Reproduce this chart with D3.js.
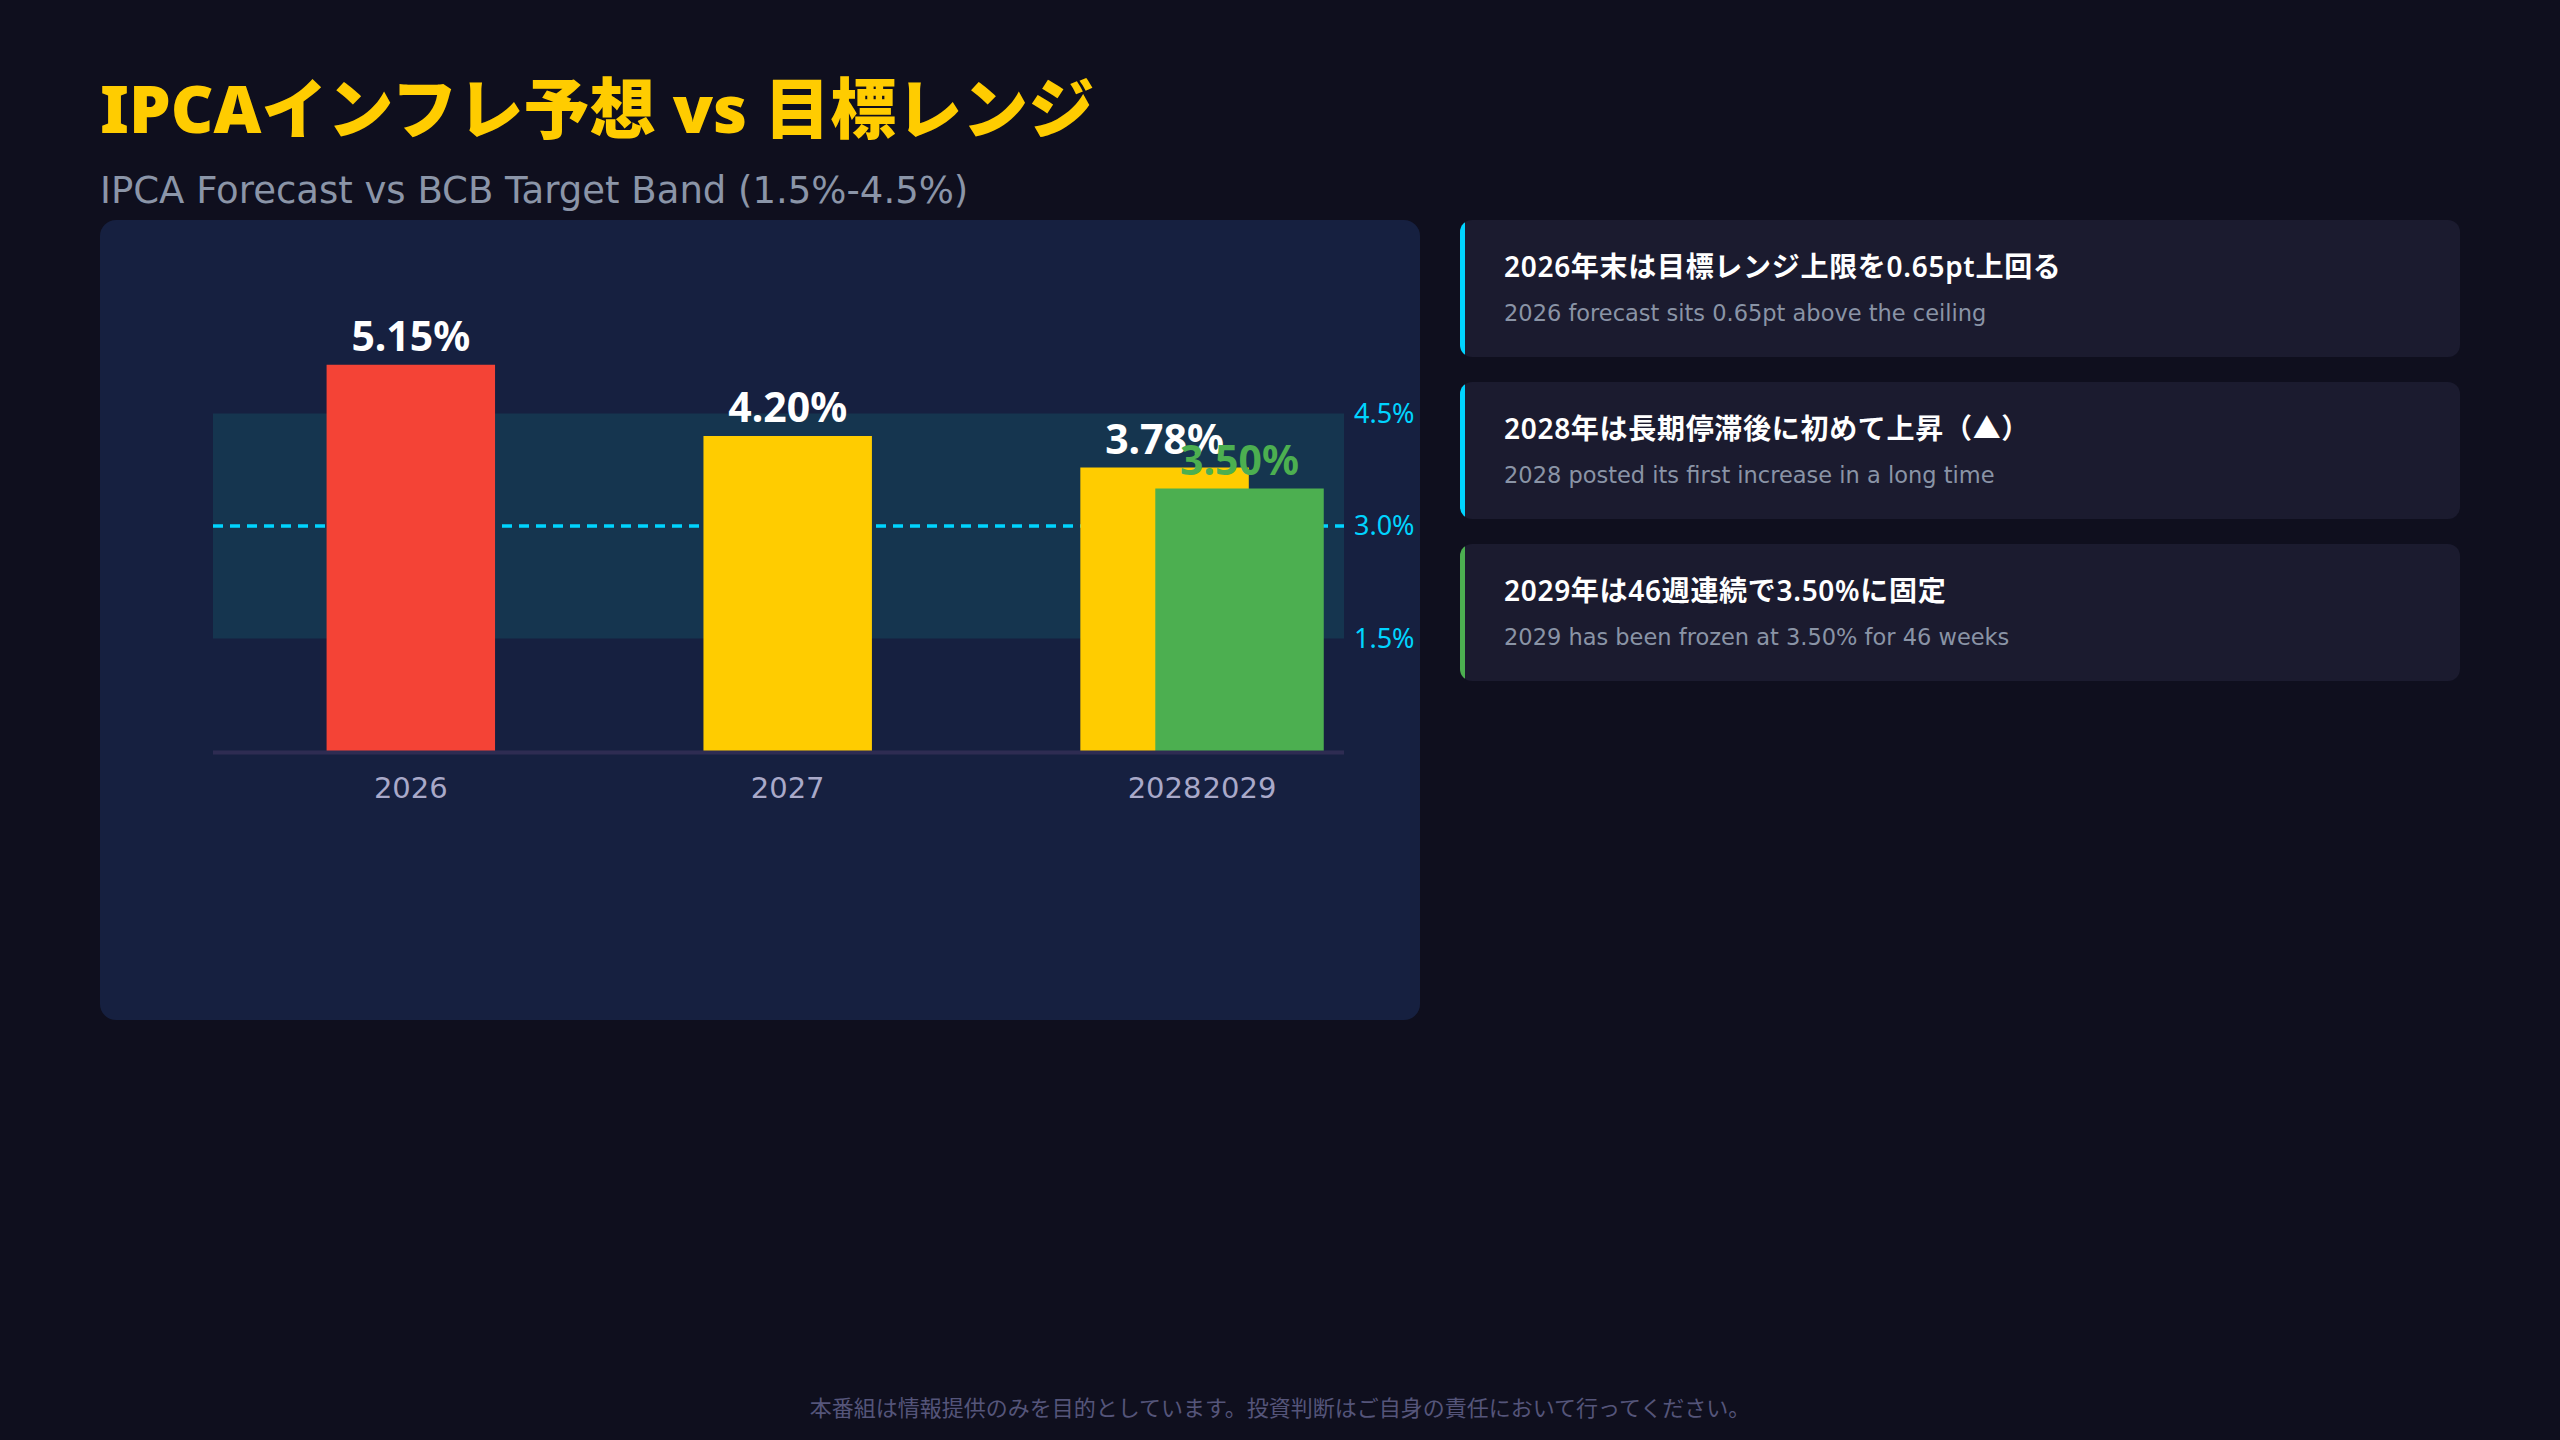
<!DOCTYPE html>
<html>
<head>
<meta charset="utf-8">
<script src="https://cdn.jsdelivr.net/npm/d3@7"></script>
<style>
  html, body { margin: 0; padding: 0; background: #0f0f1e; }
  svg { display: block; font-family: "Noto Sans", "Noto Sans CJK JP", sans-serif; }
</style>
</head>
<body>
<svg id="chart" width="2560" height="1440"></svg>
<script>
// ---- data ----
const years = ["2026", "2027", "2028", "2029"];
const forecasts = [5.15, 4.20, 3.78, 3.50];
const targetBand = [1.5, 4.5];
const targetCenter = 3.0;
const rightTicks = [1.5, 3.0, 4.5];
const cardTitles = [
  "2026年末は目標レンジ上限を0.65pt上回る",
  "2028年は長期停滞後に初めて上昇（▲）",
  "2029年は46週連続で3.50%に固定"
];
const cardSubs = [
  "2026 forecast sits 0.65pt above the ceiling",
  "2028 posted its first increase in a long time",
  "2029 has been frozen at 3.50% for 46 weeks"
];
const titleText = "IPCAインフレ予想 vs 目標レンジ";
const subtitleText = "IPCA Forecast vs BCB Target Band (1.5%-4.5%)";
const footerText = "本番組は情報提供のみを目的としています。投資判断はご自身の責任において行ってください。";

// ---- styles ----
const barColors = ["#f44336", "#ffcc00", "#ffcc00", "#4caf50"];
const labelColors = ["#ffffff", "#ffffff", "#ffffff", "#4caf50"];
const cardAccents = ["#00d4ff", "#00d4ff", "#4caf50"];
const baseFont = "'Noto Sans', 'Noto Sans CJK JP', sans-serif";
const wideFont = "'DejaVu Sans', 'Noto Sans CJK JP', sans-serif";

const svg = d3.select("#chart");

// title
svg.append("text").attr("x", 100).attr("y", 133)
  .style("font-family", baseFont)
  .attr("font-size", 66).attr("font-weight", 900).attr("fill", "#ffcc00")
  .text(titleText);
svg.append("text").attr("x", 100).attr("y", 203)
  .style("font-family", wideFont)
  .attr("font-size", 37).attr("fill", "#8b95a8")
  .text(subtitleText);

// chart panel
svg.append("rect").attr("x", 100).attr("y", 220).attr("width", 1320).attr("height", 800)
  .attr("rx", 16).attr("fill", "#162040");

const plotLeft = 213, plotRight = 1344;
const y = d3.scaleLinear().domain([0, 6]).range([751, 301]);
const x = d3.scaleBand().domain(years.slice(0, 3)).range([plotLeft, plotRight])
  .paddingInner(0.553).paddingOuter(0.277).align(0.544);
const overlapShift = 0.445; // 2029 bar drawn overlapping the 2028 slot
const xPos = (yr) => yr === "2029" ? x("2028") + x.bandwidth() * overlapShift : x(yr);

// target band
svg.append("rect")
  .attr("x", plotLeft).attr("width", plotRight - plotLeft)
  .attr("y", y(targetBand[1])).attr("height", y(targetBand[0]) - y(targetBand[1]))
  .attr("fill", "#15354f");

// center dashed line
svg.append("line")
  .attr("x1", plotLeft).attr("x2", plotRight)
  .attr("y1", y(targetCenter)).attr("y2", y(targetCenter))
  .attr("stroke", "#00d4ff").attr("stroke-width", 3.5).attr("stroke-dasharray", "10,7");

// bars
const data = years.map((yr, i) => ({ yr, v: forecasts[i], i }));
svg.append("g").selectAll("rect").data(data).join("rect")
  .attr("x", d => xPos(d.yr))
  .attr("y", d => y(d.v))
  .attr("width", x.bandwidth())
  .attr("height", d => y(0) - y(d.v))
  .attr("fill", d => barColors[d.i]);

// value labels
svg.append("g").selectAll("text").data(data).join("text")
  .attr("x", d => xPos(d.yr) + x.bandwidth() / 2)
  .attr("y", d => y(d.v) - 14)
  .attr("text-anchor", "middle")
  .style("font-family", baseFont)
  .attr("font-size", 41).attr("font-weight", 700)
  .attr("fill", d => labelColors[d.i])
  .text(d => d.v.toFixed(2) + "%");

// baseline
svg.append("line")
  .attr("x1", plotLeft).attr("x2", plotRight)
  .attr("y1", y(0) + 1.5).attr("y2", y(0) + 1.5)
  .attr("stroke", "#2e2c52").attr("stroke-width", 4);

// x labels
svg.append("g").selectAll("text").data(data).join("text")
  .attr("x", d => xPos(d.yr) + x.bandwidth() / 2)
  .attr("y", 798)
  .attr("text-anchor", "middle")
  .style("font-family", wideFont)
  .attr("font-size", 29)
  .attr("fill", "#a9a9c9")
  .text(d => d.yr);

// right axis
const ax = svg.append("g").attr("transform", `translate(${plotRight},0)`)
  .call(d3.axisRight(y).tickValues(rightTicks).tickSize(0).tickPadding(10)
    .tickFormat(d => d.toFixed(1) + "%"));
ax.select(".domain").remove();
ax.selectAll("text").attr("font-size", 27).attr("fill", "#00d4ff")
  .style("font-family", "'Noto Sans', sans-serif");

// cards
const cardX = 1460, cardW = 1000, cardH = 137, cardY0 = 220, cardStep = 162;
const defs = svg.append("defs");
cardTitles.forEach((t, i) => {
  const cy = cardY0 + i * cardStep;
  defs.append("clipPath").attr("id", "cc" + i)
    .append("rect").attr("x", cardX).attr("y", cy).attr("width", cardW).attr("height", cardH).attr("rx", 12);
  const g = svg.append("g");
  g.append("rect").attr("x", cardX).attr("y", cy).attr("width", cardW).attr("height", cardH)
    .attr("rx", 12).attr("fill", "#1b1b2f");
  g.append("rect").attr("x", cardX).attr("y", cy).attr("width", 5).attr("height", cardH)
    .attr("fill", cardAccents[i]).attr("clip-path", `url(#cc${i})`);
  g.append("text").attr("x", 1504).attr("y", cy + 57)
    .style("font-family", baseFont)
    .attr("font-size", 28).attr("font-weight", 600).attr("letter-spacing", 0.7)
    .attr("fill", "#ffffff").text(t);
  g.append("text").attr("x", 1504).attr("y", cy + 101)
    .style("font-family", wideFont)
    .attr("font-size", 22.5)
    .attr("fill", "#8a94a6").text(cardSubs[i]);
});

// footer
svg.append("text").attr("x", 1280).attr("y", 1416).attr("text-anchor", "middle")
  .style("font-family", baseFont)
  .attr("font-size", 22).attr("fill", "#55557a").text(footerText);
</script>
</body>
</html>
